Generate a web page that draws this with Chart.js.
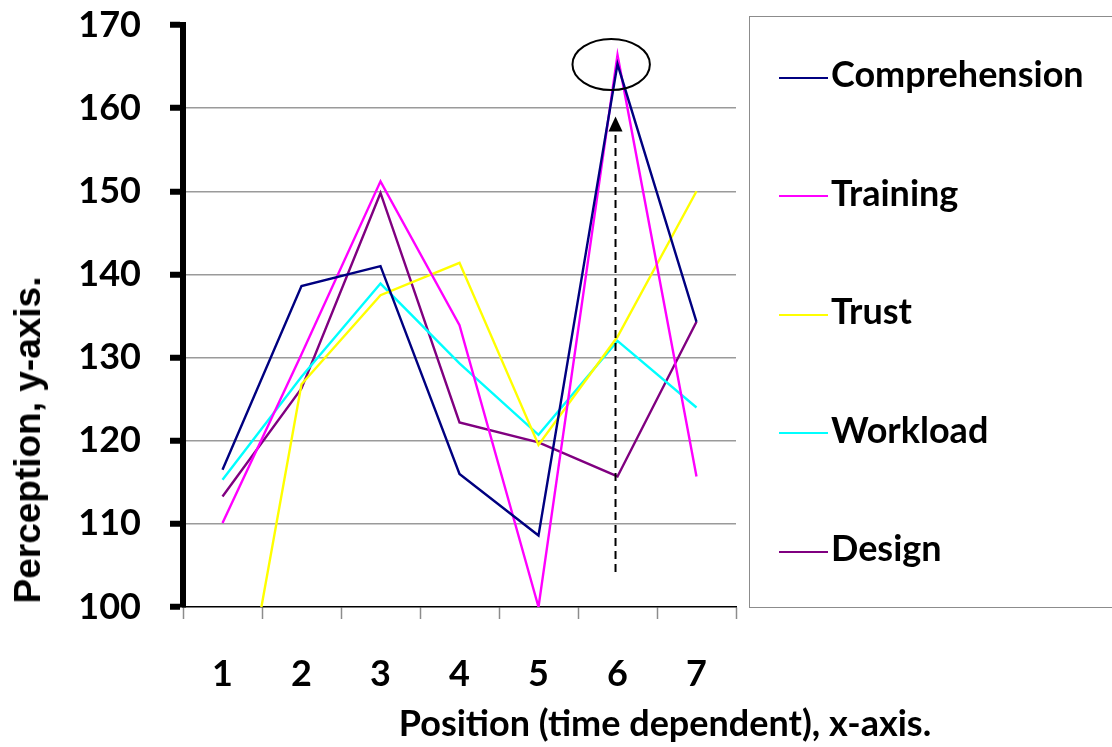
<!DOCTYPE html>
<html>
<head>
<meta charset="utf-8">
<script src="https://cdn.jsdelivr.net/npm/chart.js@4.4.1/dist/chart.umd.min.js"></script>
<style>
  html, body { margin: 0; padding: 0; background: #fff; overflow: hidden; }
  #wrap { position: relative; width: 1112px; height: 747px; }
  #legend { position: absolute; left: 749px; top: 16px; width: 420px; height: 592px;
            border: 1px solid #8c8c8c; box-sizing: border-box; font-family: Lato, sans-serif; }
  .item { position: absolute; left: 29px; height: 40px; line-height: 40px; white-space: nowrap;
          font-weight: bold; font-size: 36px; color: #000; }
  .item span.ln { display: inline-block; width: 49px; height: 2px; vertical-align: middle; margin-right: 3px; }
  .title { position: absolute; font-weight: bold; color: #000; white-space: nowrap; }
</style>
</head>
<body>
<div id="wrap">
  <canvas id="myChart" width="1112" height="747"></canvas>
  <div id="legend"></div>
  <div class="title" style="left:665px; top:722px; font-family: Lato, sans-serif; font-size:36px; transform: translate(-50%, -50%);">Position (time dependent), x-axis.</div>
  <div class="title" style="left:28px; top:440px; font-family: 'Liberation Sans', Arial, sans-serif; font-size:37px; transform: translate(-50%, -50%) rotate(-90deg);">Perception, y-axis.</div>
</div>
<script>
// categories
var positions = ['1', '2', '3', '4', '5', '6', '7'];

// series values
var comprehension = [116.5, 138.6, 141.0, 116.0, 108.6, 165.3, 134.3];
var training      = [110.1, 130.4, 151.2, 133.9, 100.0, 166.4, 115.7];
var trust         = [74.0, 126.8, 137.5, 141.4, 119.5, 132.5, 150.0];
var workload      = [115.3, 127.7, 138.9, 129.3, 120.7, 132.0, 124.0];
var design        = [113.3, 126.3, 149.8, 122.2, 119.8, 115.7, 134.3];

var seriesNames = ['Comprehension', 'Training', 'Trust', 'Workload', 'Design'];
var seriesColors = ['#000080', '#ff00ff', '#ffff00', '#00ffff', '#800080'];

// y range
var yMin = 100, yMax = 170, yStep = 10;

// annotation around the peak at position 6 (in data units)
var peakMark = { index: 4.92, value: 165.25, rx: 0.49, ry: 3.07 };
var arrowMark = { index: 4.975, from: 104.2, to: 159.0 };

var allSeries = [comprehension, training, trust, workload, design];
var datasets = allSeries.map(function (vals, i) {
    return {
        label: seriesNames[i],
        data: vals,
        borderColor: seriesColors[i],
        backgroundColor: seriesColors[i],
        borderWidth: 2.4,
        pointRadius: 0,
        tension: 0,
        fill: false
    };
});

// Ellipse + dashed arrow
var peakPlugin = {
    id: 'peakPlugin',
    afterDatasetsDraw: function (chart) {
        var ctx = chart.ctx, x = chart.scales.x, y = chart.scales.y;
        ctx.save();
        // ellipse
        var cx = x.getPixelForValue(peakMark.index);
        var cy = y.getPixelForValue(peakMark.value);
        var rx = x.getPixelForValue(peakMark.index + peakMark.rx) - cx;
        var ry = cy - y.getPixelForValue(peakMark.value + peakMark.ry);
        ctx.beginPath();
        ctx.ellipse(cx, cy, rx, ry, 0, 0, Math.PI * 2);
        ctx.strokeStyle = '#000';
        ctx.lineWidth = 2;
        ctx.stroke();
        // arrow
        var ax = x.getPixelForValue(arrowMark.index);
        var y0 = y.getPixelForValue(arrowMark.from);
        var y1 = y.getPixelForValue(arrowMark.to);
        var head = 15;
        ctx.beginPath();
        ctx.setLineDash([8, 5]);
        ctx.moveTo(ax, y0);
        ctx.lineTo(ax, y1 + head);
        ctx.lineWidth = 2;
        ctx.stroke();
        ctx.setLineDash([]);
        ctx.beginPath();
        ctx.moveTo(ax, y1);
        ctx.lineTo(ax - 7, y1 + head);
        ctx.lineTo(ax + 7, y1 + head);
        ctx.closePath();
        ctx.fillStyle = '#000';
        ctx.fill();
        ctx.restore();
    }
};

var tickFont = { family: 'Lato', weight: 'bold', size: 36 };

var ctx = document.getElementById('myChart').getContext('2d');
var myChart = new Chart(ctx, {
    type: 'line',
    data: { labels: positions, datasets: datasets },
    options: {
        responsive: false,
        animation: false,
        layout: { padding: { left: 0, right: 376, top: 25, bottom: 0 } },
        plugins: { legend: { display: false }, tooltip: { enabled: false } },
        scales: {
            x: {
                offset: true,
                grid: { offset: true, drawOnChartArea: false, drawTicks: true, tickLength: 12,
                        color: '#8c8c8c', tickColor: '#8c8c8c', tickWidth: 1.5 },
                border: { color: '#000', width: 1.5 },
                ticks: { font: tickFont, color: '#000', padding: 34, maxRotation: 0 },
                afterFit: function (s) { s.height = 140; s.paddingLeft = 0; s.paddingRight = 0; }
            },
            y: {
                min: yMin,
                max: yMax,
                ticks: { stepSize: yStep, font: tickFont, color: '#000', padding: 29 },
                grid: {
                    color: function (c) {
                        return (c.tick && c.tick.value > yMin && c.tick.value < yMax) ? '#9a9a9a' : 'rgba(0,0,0,0)';
                    },
                    lineWidth: 1.5,
                    tickColor: '#000',
                    tickWidth: 6,
                    tickLength: 13
                },
                border: { color: '#000', width: 6 },
                afterFit: function (s) { s.width = 183; s.paddingTop = 0; s.paddingBottom = 0; }
            }
        }
    },
    plugins: [peakPlugin]
});

// legend box built from the chart's datasets
var legendEl = document.getElementById('legend');
myChart.data.datasets.forEach(function (ds, i) {
    var item = document.createElement('div');
    item.className = 'item';
    item.style.top = (56 + i * 118.5 - 20) + 'px';
    var ln = document.createElement('span');
    ln.className = 'ln';
    ln.style.background = ds.borderColor;
    item.appendChild(ln);
    item.appendChild(document.createTextNode(ds.label));
    legendEl.appendChild(item);
});
</script>
</body>
</html>
